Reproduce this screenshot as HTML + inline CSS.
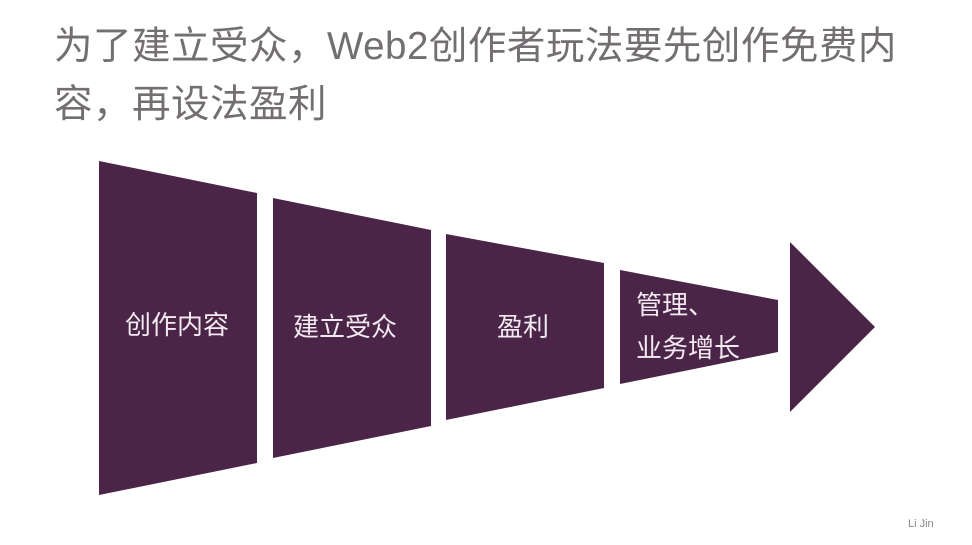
<!DOCTYPE html>
<html><head><meta charset="utf-8"><style>
body{margin:0;width:972px;height:545px;background:#fff;overflow:hidden;position:relative;font-family:"Liberation Sans","Noto Sans CJK SC",sans-serif}
.t{position:absolute;left:54px;top:18px;width:900px;font-size:38.5px;line-height:58px;color:#726e72;letter-spacing:0.5px}
.l{position:absolute;color:#f3e9f0;font-size:26px;line-height:34px;white-space:nowrap}
.s{position:absolute;left:908px;top:518px;font-size:11px;color:#888}
</style></head><body>
<div class="t">为了建立受众，Web2创作者玩法要先创作免费内容，再设法盈利</div>
<svg width="972" height="545" style="position:absolute;left:0;top:0">
<g fill="#4a2547">
<polygon points="99,161 257,193 257,463 99,495"/>
<polygon points="273,198 431,230 431,426 273,458"/>
<polygon points="446,234 604,263 604,388 446,420"/>
<polygon points="620,270 778,300 778,352 620,384"/>
<polygon points="790,242 875,327 790,412"/>
</g></svg>
<div class="l" style="left:125px;top:308px">创作内容</div>
<div class="l" style="left:293px;top:310px">建立受众</div>
<div class="l" style="left:497px;top:310px">盈利</div>
<div class="l" style="left:636px;top:288px">管理、</div>
<div class="l" style="left:636px;top:331px">业务增长</div>
<div class="s">Li Jin</div>
</body></html>
